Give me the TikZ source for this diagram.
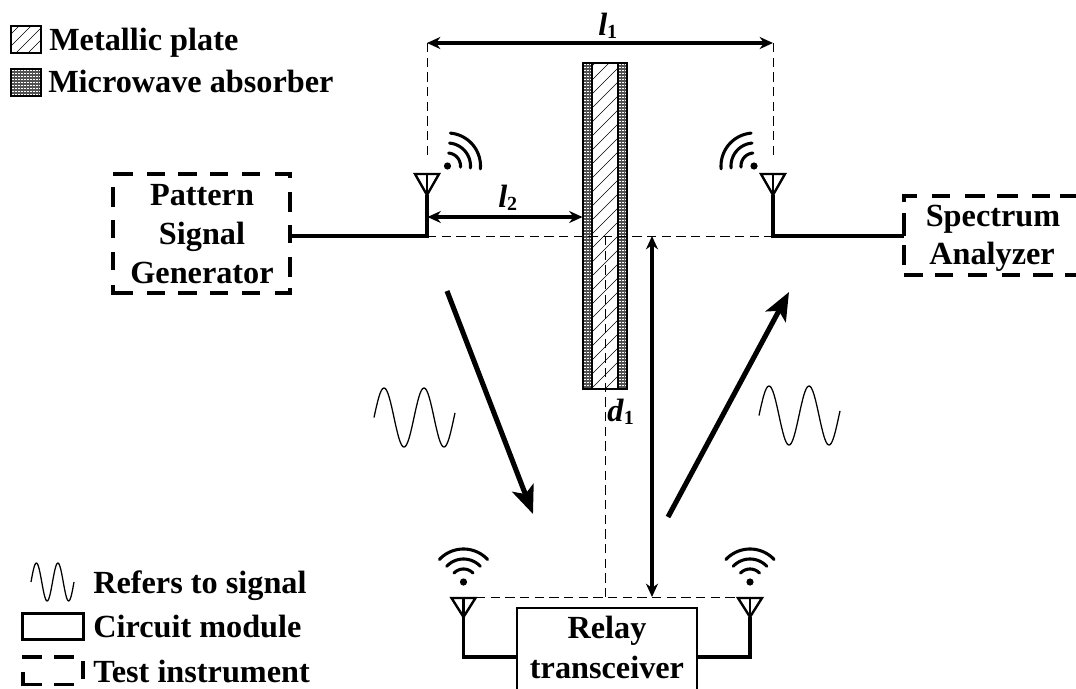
\documentclass[tikz,border=0pt]{standalone}
\usepackage{fontspec}
\setmainfont{Liberation Serif}
\usetikzlibrary{arrows.meta,positioning}
\definecolor{absorb}{gray}{0.32}
\newcommand{\subnum}[1]{\raisebox{-2.6pt}{\fontsize{15}{15}\selectfont\upshape #1}}
\tikzset{
  lab/.style={font=\fontsize{24.2}{28}\selectfont\bfseries,inner sep=0pt,anchor=base west},
  clab/.style={font=\fontsize{24.2}{28}\selectfont\bfseries,inner sep=0pt,anchor=base},
  wire/.style={line width=2.3pt,line join=miter},
  thin dash/.style={line width=0.65pt,dash pattern=on 7pt off 4pt},
  hatchline/.style={line width=0.45pt},
  dim/.style={line width=2.3pt,{Stealth[length=10pt,width=9pt]}-{Stealth[length=10pt,width=9pt]}},
  oneway/.style={line width=3.8pt,-{Stealth[length=21pt,width=17pt,inset=5pt]}},
  dseg/.style={line width=2.3pt,line join=miter},
  sbox/.style={draw,line width=2.2pt,inner sep=0pt},
  sig/.style={line width=0.95pt,smooth},
  arcw/.style={line width=2.3pt,line cap=round},
  ant/.style={line width=1.8pt,line join=miter},
  dotline/.style={white,line width=0.9pt,dash pattern=on 0.9pt off 1.35pt},
}
% centre x, top y, half width, apex y
\newcommand{\antennaglyph}[4]{%
  \draw[ant] (#1-#3,#2) -- (#1+#3,#2) -- (#1,#4) -- cycle;
  \draw[ant] (#1,#2) -- (#1,#4);
}
% centre x, centre y, start angle, end angle (angles measured on screen)
\newcommand{\wifiglyph}[4]{%
  \fill (#1,#2) circle (3.6);
  \foreach \r in {13,23,33}{
    \draw[arcw,domain=#3:#4,samples=24,smooth] plot ({#1+\r*cos(\x)},{#2-\r*sin(\x)});
  }
}
\begin{document}
\begin{tikzpicture}[x=0.75pt,y=-0.75pt]
\useasboundingbox (0,0) rectangle (1076,689);
\clip (0,0) rectangle (1076,689);
\fill[white] (0,0) rectangle (1076,689);

% ---- coordinates
\coordinate (txL) at (427,236);
\coordinate (txR) at (773,236);
\coordinate (antL) at (427,195);
\coordinate (antR) at (773,195);
\coordinate (rxL) at (463.5,617);
\coordinate (rxR) at (750,617);
\coordinate (topL) at (427,43);
\coordinate (topR) at (773,43);
\coordinate (dmid) at (605,236);
\coordinate (dlow) at (605,597);
\coordinate (dimTop) at (652,236);
\coordinate (dimBot) at (652,597);
\coordinate (l2a) at (427.5,217);
\coordinate (l2b) at (582.5,217);
\coordinate (arA) at (447,291);
\coordinate (arB) at (533,514);
\coordinate (arC) at (668,517);
\coordinate (arD) at (789,292);

% ---- plate
\fill[absorb] (583,63) rectangle (592,389);
\fill[absorb] (618,63) rectangle (627,389);
\foreach \xa in {585,588,591,620,623,626}{
  \draw[dotline] (\xa,64) -- (\xa,388);
}
\begin{scope}
  \clip (592,63) rectangle (618,389);
  \foreach \k in {0,...,26}{
    \draw[hatchline] (592,{66+14*\k}) -- (618,{66+14*\k-26});
  }
\end{scope}
\draw[line width=0.9pt] (583,63) rectangle (627,389);
\draw[line width=1.8pt] (592,63) -- (592,389);
\draw[line width=1.8pt] (618,63) -- (618,389);

% ---- dashed guides
\draw[thin dash] (topL) -- (427,160);
\draw[thin dash] (topR) -- (773,158);
\draw[thin dash] (txL) -- (txR);
\draw[thin dash] (dmid) -- (dlow);
\draw[thin dash] (476,597.5) -- (737,597.5);

% ---- boxes
\node[inner sep=0pt,minimum width=132.75pt,minimum height=89.25pt] (gen) at (201.5,233.5) {};
\node[inner sep=0pt,minimum width=129pt,minimum height=59.25pt] (spec) at (990,235.5) {};
\node[sbox,minimum width=135pt,minimum height=66pt] (relay) at (607,652) {};

% Pattern Signal Generator outline
\draw[dseg] (113,174) -- (133,174) (147,174) -- (165,174) (178,174) -- (197,174) (210,174) -- (228,174) (242,174) -- (260,174);
\draw[dseg] (275,174) -- (290,174) -- (290,178);
\draw[dseg] (290,192) -- (290,212) (290,225) -- (290,243) (290,257) -- (290,277);
\draw[dseg] (290,288) -- (290,293) -- (275,293);
\draw[dseg] (260,293) -- (242,293) (228,293) -- (210,293) (197,293) -- (178,293) (165,293) -- (147,293);
\draw[dseg] (133,293) -- (113,293) -- (113,285);
\draw[dseg] (113,270) -- (113,252) (113,238) -- (113,220) (113,207) -- (113,187);
% Spectrum Analyzer outline
\draw[dseg] (904,202) -- (904,196) -- (917,196);
\draw[dseg] (932,196) -- (950,196) (965,196) -- (985,196) (997,196) -- (1018,196) (1032,196) -- (1050,196) (1060,196) -- (1076,196);
\draw[dseg] (904,213) -- (904,236) (904,245) -- (904,265);
\draw[dseg] (904,275) -- (923,275) (935,275) -- (953,275) (968,275) -- (987,275) (1002,275) -- (1020,275) (1033,275) -- (1053,275) (1065,275) -- (1076,275);

\node[clab] (t1) at (202,205) {Pattern};
\node[clab] (t2) at (202,244) {Signal};
\node[clab] (t3) at (202,283) {Generator};
\node[clab] (t4) at (993,226) {Spectrum};
\node[clab] (t5) at (992,264) {Analyzer};
\node[clab] (t6) at (607,638) {Relay};
\node[clab] (t7) at (607,678) {transceiver};

% ---- antennas
\antennaglyph{427}{174}{12}{195}
\antennaglyph{773}{174}{12}{195}
\antennaglyph{463.5}{598}{12}{617}
\antennaglyph{750}{598}{12}{617}
\draw[wire] (gen.east |- txL) -- (txL) -- (antL);
\draw[wire] (spec.west |- txR) -- (txR) -- (antR);
\draw[wire] (rxL) |- (relay.west |- 0,657);
\draw[wire] (rxR) |- (relay.east |- 0,657);

% ---- wifi
\wifiglyph{447.5}{166}{-5}{85}
\wifiglyph{754}{166}{95}{185}
\wifiglyph{463.5}{582}{43}{137}
\wifiglyph{750}{582}{43}{137}

% ---- dimension arrows
\draw[dim] (topL) -- (topR);
\draw[dim] (l2a) -- (l2b);
\draw[dim] (dimTop) -- (dimBot);
\node[lab] (l1) at (598,35) {\textit{l}\subnum{1}};
\node[lab] (l2) at (498,207) {\textit{l}\subnum{2}};
\node[lab] (d1) at (607,421) {\textit{d}\subnum{1}};

% ---- big arrows
\draw[oneway] (arA) -- (arB);
\draw[oneway] (arC) -- (arD);

% ---- signals
\draw[sig,domain=374:455,samples=90] plot (\x,{417.5-29.5*sin(9*(\x-374))});
\draw[sig,domain=759:840,samples=90] plot (\x,{415.5-29.5*sin(9*(\x-759))});
\draw[sig,domain=31:74,samples=60] plot (\x,{582-19*sin(16.74*(\x-31))});

% ---- legend top
\draw[line width=1.3pt] (11,26) rectangle (41,53);
\begin{scope}
  \clip (11,26) rectangle (41,53);
  \foreach \k in {0,...,4}{
    \draw[hatchline] (11,{34+12*\k}) -- (41,{34+12*\k-30});
  }
\end{scope}
\fill[absorb] (11,69) rectangle (41,96);
\foreach \xa in {13,16,19,22,25,28,31,34,37,40}{
  \draw[dotline] (\xa,70) -- (\xa,95);
}
\draw[line width=1.3pt] (11,69) rectangle (41,96);
\node[lab] (m1) at (49,50) {Metallic plate};
\node[lab] (m2) at (48,92) {Microwave absorber};

% ---- legend bottom
\node[lab] (b1) at (93,593) {Refers to signal};
\node[lab] (b2) at (93,637) {Circuit module};
\node[lab] (b3) at (93,682) {Test instrument};
\node[sbox,minimum width=45.5pt,minimum height=20pt] (lgc) at (53,626.5) {};
\draw[dseg] (22,657) -- (42,657) (54,657) -- (74,657);
\draw[dseg] (83,661) -- (83,679);
\draw[dseg] (23,672) -- (23,684.5) -- (42,684.5) (54,684.5) -- (74,684.5);
\end{tikzpicture}
\end{document}
